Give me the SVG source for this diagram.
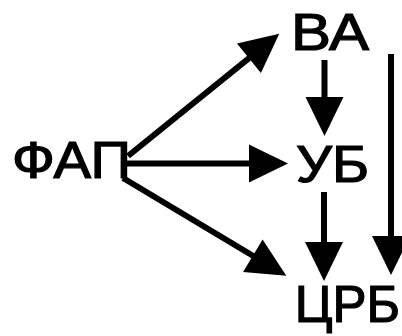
<svg xmlns="http://www.w3.org/2000/svg" width="402" height="336" viewBox="0 0 402 336">
<defs>
<style>
text{font-family:"Liberation Sans",Arial,sans-serif;font-size:51px;fill:#000;stroke:#000;stroke-width:1.2}
.c{stroke:#000;stroke-width:6;fill:none;marker-end:url(#ah)}
</style>
<marker id="ah" markerUnits="userSpaceOnUse" markerWidth="40" markerHeight="40" refX="20" refY="19" orient="auto" overflow="visible">
<path d="M0,0 L39,19 L0,38 Z" fill="#000"/>
</marker>
</defs>
<rect width="402" height="336" fill="#fff"/>
<g id="connectors">
<line class="c" x1="128" y1="156" x2="264.5" y2="45.6"/>
<line class="c" x1="127" y1="163.5" x2="269" y2="163.5"/>
<line class="c" x1="123" y1="178" x2="270" y2="266"/>
<line class="c" x1="324.5" y1="60" x2="324.5" y2="117"/>
<line class="c" x1="324" y1="192" x2="324" y2="262"/>
<line class="c" x1="391" y1="54" x2="391" y2="256"/>
</g>
<g id="node-fap"><text x="12" y="178" textLength="119" lengthAdjust="spacingAndGlyphs">ФАП</text></g>
<g id="node-va"><text x="291" y="50" font-size="49" textLength="78" lengthAdjust="spacingAndGlyphs">ВА</text></g>
<g id="node-ub"><text x="296" y="182" textLength="73" lengthAdjust="spacingAndGlyphs">УБ</text></g>
<g id="node-crb"><text x="400" y="322" font-size="48" text-anchor="end">ЦРБ</text></g>
</svg>
